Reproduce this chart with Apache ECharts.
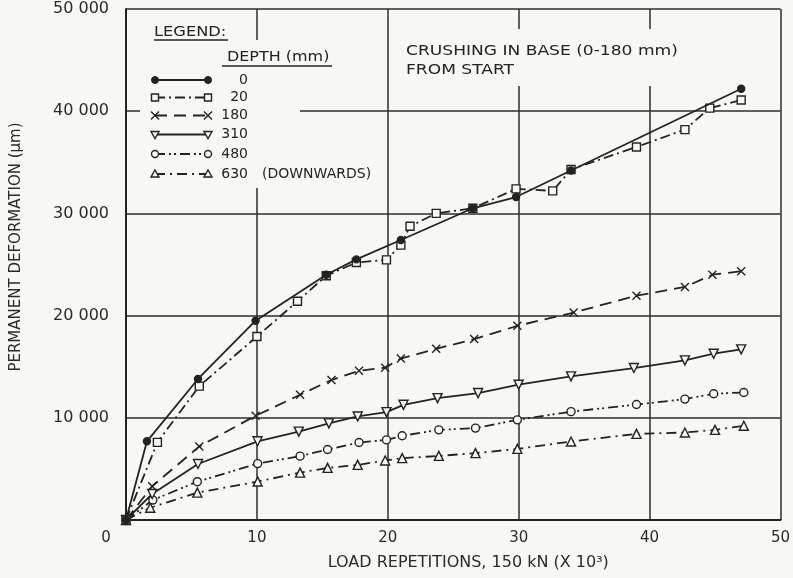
<!DOCTYPE html>
<html>
<head>
<meta charset="utf-8">
<script src="https://cdn.jsdelivr.net/npm/echarts@6/dist/echarts.min.js"></script>
<style>
  html, body { margin: 0; padding: 0; background: #f7f7f5; }
  #chart { width: 793px; height: 578px; }
</style>
</head>
<body>
<div id="chart"></div>
<script>
// Permanent deformation vs load repetitions, per measurement depth.
// Each point: [load repetitions (x 10^3), permanent deformation (µm)]
const depth0 = [[0,0],[1.6,7700],[5.5,13800],[9.9,19500],[15.3,24000],[17.6,25500],[21.0,27400],[26.5,30500],[29.8,31600],[34.0,34200],[47.0,42200]];
const depth20 = [[0,0],[2.4,7600],[5.6,13100],[10.0,17950],[13.1,21400],[15.3,23900],[17.6,25200],[19.9,25450],[21.0,26900],[21.7,28750],[23.7,30000],[26.5,30500],[29.8,32400],[32.6,32200],[34.0,34300],[39.0,36500],[42.7,38200],[44.6,40300],[47.0,41100]];
const depth180 = [[0,0],[2.0,3300],[5.6,7200],[9.9,10200],[13.3,12250],[15.7,13700],[17.8,14600],[19.8,14900],[21.0,15800],[23.7,16750],[26.6,17700],[29.9,19000],[34.2,20300],[39.0,21950],[42.7,22800],[44.8,24000],[47.0,24350]];
const depth310 = [[0,0],[2.0,2550],[5.5,5480],[10.05,7700],[13.2,8650],[15.5,9450],[17.7,10130],[19.9,10560],[21.2,11270],[23.8,11930],[26.9,12420],[30.0,13240],[34.0,14050],[38.8,14870],[42.7,15620],[44.9,16270],[47.0,16700]];
const depth480 = [[0,0],[2.05,1950],[5.45,3750],[10.06,5520],[13.3,6250],[15.4,6900],[17.8,7580],[19.9,7840],[21.1,8240],[23.9,8820],[26.7,8990],[29.9,9800],[34.0,10600],[39.0,11300],[42.7,11830],[44.9,12350],[47.2,12480]];
const depth630 = [[0,0],[1.85,1200],[5.45,2680],[10.06,3760],[13.3,4640],[15.4,5100],[17.7,5390],[19.8,5820],[21.1,6050],[23.9,6270],[26.7,6540],[29.9,6960],[34.0,7680],[39.0,8430],[42.7,8560],[45.0,8820],[47.2,9220]];

const depthLabels = ['0', '20', '180', '310', '480', '630'];
const xTicks = [0, 10, 20, 30, 40, 50];
const yTicks = [0, 10000, 20000, 30000, 40000, 50000];

const BG = '#f7f7f5';
const INK = '#232323';
const FONT = 'DejaVu Sans';

const styles = [
  { data: depth0,   mark: 'dot',     dash: 'solid' },
  { data: depth20,  mark: 'square',  dash: [10, 4, 2, 4] },
  { data: depth180, mark: 'cross',   dash: [12, 7] },
  { data: depth310, mark: 'tridown', dash: 'solid' },
  { data: depth480, mark: 'circle',  dash: [10, 4, 2, 3, 2, 4] },
  { data: depth630, mark: 'triup',   dash: [10, 5, 2, 5] }
];

function symbolFor(mark) {
  switch (mark) {
    case 'dot':     return { symbol: 'circle', symbolSize: 7, fill: INK };
    case 'square':  return { symbol: 'rect', symbolSize: 8, fill: BG };
    case 'cross':   return { symbol: 'path://M0,0L10,10M10,0L0,10', symbolSize: 8, fill: 'none' };
    case 'tridown': return { symbol: 'triangle', symbolSize: 9, fill: BG, rotate: 180 };
    case 'circle':  return { symbol: 'circle', symbolSize: 8, fill: BG };
    case 'triup':   return { symbol: 'triangle', symbolSize: 9, fill: BG };
  }
}

const series = styles.map((s, i) => {
  const sym = symbolFor(s.mark);
  return {
    name: depthLabels[i],
    type: 'line',
    data: s.data,
    symbol: sym.symbol,
    symbolSize: sym.symbolSize,
    symbolRotate: sym.rotate || 0,
    showAllSymbol: true,
    lineStyle: { color: INK, width: 1.8, type: s.dash },
    itemStyle: { color: sym.fill, borderColor: INK, borderWidth: 1.4 },
    z: 3 + (5 - i)
  };
});

// Hand-drawn style legend: a line with a marker at each end.
function legendMarker(mark, x, y) {
  const st = { stroke: INK, lineWidth: 1.4, fill: BG };
  switch (mark) {
    case 'dot':
      return [{ type: 'circle', shape: { cx: x, cy: y, r: 3.5 }, style: { fill: INK, stroke: INK } }];
    case 'square':
      return [{ type: 'rect', shape: { x: x - 3.5, y: y - 3.5, width: 7, height: 7 }, style: st }];
    case 'cross':
      return [
        { type: 'line', shape: { x1: x - 4, y1: y - 4, x2: x + 4, y2: y + 4 }, style: { stroke: INK, lineWidth: 1.4 } },
        { type: 'line', shape: { x1: x - 4, y1: y + 4, x2: x + 4, y2: y - 4 }, style: { stroke: INK, lineWidth: 1.4 } }
      ];
    case 'tridown':
      return [{ type: 'polygon', shape: { points: [[x - 4, y - 3], [x + 4, y - 3], [x, y + 4]] }, style: st }];
    case 'circle':
      return [{ type: 'circle', shape: { cx: x, cy: y, r: 3.5 }, style: st }];
    case 'triup':
      return [{ type: 'polygon', shape: { points: [[x - 4, y + 3], [x + 4, y + 3], [x, y - 4]] }, style: st }];
  }
}

const rowY = [80, 97.5, 115.5, 134.5, 154, 174];
const legendEls = [];
styles.forEach((s, i) => {
  const y = rowY[i];
  legendEls.push({
    type: 'line', z: 20,
    shape: { x1: 155, y1: y, x2: 208, y2: y },
    style: { stroke: INK, lineWidth: 1.8, lineDash: s.dash === 'solid' ? null : s.dash }
  });
  legendMarker(s.mark, 155, y).concat(legendMarker(s.mark, 208, y)).forEach(el => { el.z = 21; legendEls.push(el); });
  legendEls.push({
    type: 'text', z: 21, x: 248, y: y,
    style: { text: depthLabels[i], font: '14px "' + FONT + '"', fill: INK, align: 'right', verticalAlign: 'middle' }
  });
});
legendEls.push({
  type: 'text', z: 21, x: 262, y: rowY[5],
  style: { text: '(DOWNWARDS)', font: '14px "' + FONT + '"', fill: INK, align: 'left', verticalAlign: 'middle' }
});

const textStyle = (size) => ({ font: size + 'px "' + FONT + '"', fill: INK, verticalAlign: 'middle' });

const graphic = [
  // blank panels where gridlines stop around the legend and the note
  { type: 'rect', z: 1, shape: { x: 140, y: 40, width: 160, height: 148 }, style: { fill: BG } },
  { type: 'rect', z: 1, shape: { x: 395, y: 29, width: 310, height: 57 }, style: { fill: BG } },
  { type: 'text', z: 21, x: 154, y: 32, scaleX: 1.16, style: Object.assign({ text: 'LEGEND:' }, textStyle(14)) },
  { type: 'line', z: 21, shape: { x1: 154, y1: 40, x2: 228, y2: 40 }, style: { stroke: INK, lineWidth: 1.3 } },
  { type: 'text', z: 21, x: 227, y: 57, scaleX: 1.14, style: Object.assign({ text: 'DEPTH (mm)' }, textStyle(14)) },
  { type: 'line', z: 21, shape: { x1: 222, y1: 66, x2: 332, y2: 66 }, style: { stroke: INK, lineWidth: 1.3 } },
  { type: 'text', z: 21, x: 406, y: 51, scaleX: 1.22, style: Object.assign({ text: 'CRUSHING IN BASE (0-180 mm)' }, textStyle(14)) },
  { type: 'text', z: 21, x: 406, y: 70, scaleX: 1.22, style: Object.assign({ text: 'FROM START' }, textStyle(14)) }
].concat(legendEls);

const fmtThousands = v => String(v).replace(/\B(?=(\d{3})+$)/g, ' ');

const chart = echarts.init(document.getElementById('chart'), null, { renderer: 'canvas' });
chart.setOption({
  backgroundColor: BG,
  animation: false,
  grid: { left: 126, right: 11, top: 9, bottom: 58, containLabel: false },
  xAxis: {
    type: 'value', min: xTicks[0], max: xTicks[xTicks.length - 1], interval: xTicks[1] - xTicks[0],
    axisLine: { show: true, lineStyle: { color: INK, width: 2 } },
    axisTick: { show: false },
    splitLine: { show: true, lineStyle: { color: '#2e2e2e', width: 1.5 } },
    axisLabel: {
      margin: 11, color: '#2a2a2a', fontFamily: FONT, fontSize: 15,
      formatter: v => v === 0 ? '{o|' + v + '}' : String(v),
      rich: { o: { padding: [0, 40, 0, 0], fontFamily: FONT, fontSize: 15, color: '#2a2a2a' } }
    },
    name: 'LOAD REPETITIONS, 150 kN (X 10³)',
    nameLocation: 'middle', nameGap: 35,
    nameTextStyle: { color: '#2a2a2a', fontFamily: FONT, fontSize: 16, padding: [0, 0, 0, 30] }
  },
  yAxis: {
    type: 'value', min: yTicks[0], max: yTicks[yTicks.length - 1], interval: yTicks[1] - yTicks[0],
    axisLine: { show: true, lineStyle: { color: INK, width: 2 } },
    axisTick: { show: false },
    splitLine: { show: true, lineStyle: { color: '#2e2e2e', width: 1.5 } },
    axisLabel: {
      margin: 17, color: '#2a2a2a', fontFamily: FONT, fontSize: 16,
      formatter: v => v === 0 ? '' : fmtThousands(v)
    },
    name: 'PERMANENT DEFORMATION (μm)',
    nameLocation: 'middle', nameRotate: 90, nameGap: 102,
    nameTextStyle: { color: '#2a2a2a', fontFamily: FONT, fontSize: 15, padding: [0, 0, 0, 35] }
  },
  graphic: graphic,
  series: series
});
</script>
</body>
</html>
